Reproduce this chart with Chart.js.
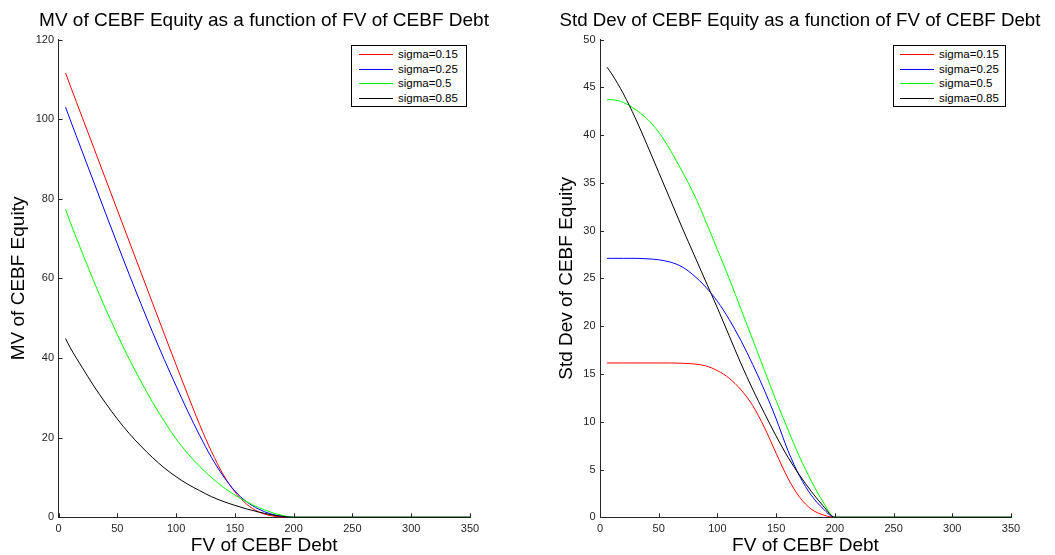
<!DOCTYPE html>
<html>
<head>
<meta charset="utf-8">
<title>CEBF Equity</title>
<script src="https://cdn.jsdelivr.net/npm/chart.js@4.4.1/dist/chart.umd.min.js"></script>
<style>
    body { margin: 0; background: #fff; }
    #lienzo { position: relative; width: 1055px; height: 555px; overflow: hidden; }
    canvas { position: absolute; top: 0; }
    .leyenda {
        position: absolute; top: 45px; height: 62px;
        border: 1px solid #000; background: #fff; box-sizing: border-box;
        font: 11.5px "Liberation Sans", Arial, Helvetica, sans-serif; color: #000;
    }
    .leyenda .fila { position: absolute; left: 0; right: 0; height: 14px; line-height: 14px; white-space: nowrap; }
    .leyenda .muestra { position: absolute; top: 7px; height: 0; width: 34px; border-top: 1px solid; }
    .leyenda .texto { position: absolute; top: 0; }
</style>
</head>
<body>
<div id="lienzo">
    <canvas id="graficaMv" width="528" height="555" style="left:0px"></canvas>
    <canvas id="graficaDesv" width="510" height="555" style="left:545px"></canvas>
    <div id="leyendaMv" class="leyenda" style="left:351px; width:116px"></div>
    <div id="leyendaDesv" class="leyenda" style="left:893px; width:113px"></div>
</div>
<script>
// --- Datos ---
const fvDeuda = [6, 10, 20, 30, 40, 50, 60, 70, 80, 90, 100, 110, 120, 130, 140, 150, 160, 170, 180, 190, 200, 250, 300, 350];

// MV del equity (panel izquierdo)
const mvSigma015 = [111.6, 108.4, 100.6, 92.8, 85.0, 77.2, 69.4, 61.6, 53.8, 46.0, 38.3, 30.7, 23.3, 16.6, 10.8, 6.4, 3.3, 1.4, 0.45, 0.08, 0, 0, 0, 0];
const mvSigma025 = [103.0, 99.8, 92.0, 84.2, 76.4, 68.7, 61.1, 53.7, 46.5, 39.6, 33.0, 26.6, 20.6, 15.1, 10.4, 6.6, 3.9, 2.1, 0.9, 0.25, 0, 0, 0, 0];
const mvSigma050 = [77.4, 74.1, 66.6, 59.3, 52.4, 45.9, 39.8, 34.2, 28.9, 24.1, 19.7, 16.0, 12.8, 10.0, 7.6, 5.6, 3.9, 2.5, 1.35, 0.5, 0, 0, 0, 0];
const mvSigma085 = [44.9, 42.6, 37.7, 33.0, 28.7, 24.7, 21.1, 17.9, 15.0, 12.4, 10.2, 8.3, 6.7, 5.2, 4.0, 3.0, 2.1, 1.35, 0.7, 0.25, 0, 0, 0, 0];

// Desviacion estandar del equity (panel derecho)
const sdSigma015 = [16.15, 16.15, 16.15, 16.15, 16.15, 16.15, 16.15, 16.12, 16.05, 15.85, 15.35, 14.55, 13.35, 11.7, 9.4, 6.7, 4.1, 2.1, 0.85, 0.25, 0, 0, 0, 0];
const sdSigma025 = [27.1, 27.1, 27.1, 27.1, 27.05, 26.95, 26.7, 26.2, 25.3, 24.1, 22.6, 20.7, 18.5, 16.0, 13.3, 10.3, 7.0, 4.3, 2.3, 0.9, 0, 0, 0, 0];
const sdSigma050 = [43.7, 43.7, 43.4, 42.7, 41.7, 40.3, 38.4, 36.2, 33.8, 31.0, 28.0, 25.0, 21.8, 18.6, 15.4, 12.2, 9.2, 6.3, 3.8, 1.6, 0, 0, 0, 0];
const sdSigma085 = [47.1, 46.4, 44.3, 41.8, 39.0, 36.1, 33.2, 30.3, 27.5, 24.7, 21.9, 19.0, 16.1, 13.4, 10.9, 8.5, 6.3, 4.4, 2.7, 1.2, 0, 0, 0, 0];

const nombresSeries = ['sigma=0.15', 'sigma=0.25', 'sigma=0.5', 'sigma=0.85'];
const coloresSeries = ['#ff0000', '#0000ff', '#00ff00', '#000000'];

const ticksX = [0, 50, 100, 150, 200, 250, 300, 350];
const ticksMv = [0, 20, 40, 60, 80, 100, 120];
const ticksDesv = [0, 5, 10, 15, 20, 25, 30, 35, 40, 45, 50];

const fuente = '"Liberation Sans", Arial, Helvetica, sans-serif';
const colorEje = '#262626';

// marcas de los ejes hacia dentro, como en MATLAB
const marcasHaciaDentro = {
    id: 'marcasHaciaDentro',
    afterDraw(chart) {
        const ctx = chart.ctx;
        const area = chart.chartArea;
        ctx.save();
        ctx.strokeStyle = colorEje;
        ctx.lineWidth = 1;
        ctx.beginPath();
        chart.scales.x.ticks.forEach(t => {
            const px = Math.round(chart.scales.x.getPixelForValue(t.value)) + 0.5;
            ctx.moveTo(px, area.bottom);
            ctx.lineTo(px, area.bottom - 4);
        });
        chart.scales.y.ticks.forEach(t => {
            const py = Math.round(chart.scales.y.getPixelForValue(t.value)) + 0.5;
            ctx.moveTo(area.left, py);
            ctx.lineTo(area.left + 4, py);
        });
        ctx.stroke();
        ctx.restore();
    }
};

// cfg: ancho del eje Y, padding del titulo Y, hueco a la derecha del area, tamano del titulo
function crearGrafica(idCanvas, titulo, tituloY, series, ticksY, cfg) {
    const canvas = document.getElementById(idCanvas);
    if (!canvas) return;
    const ctx = canvas.getContext('2d');

    return new Chart(ctx, {
        type: 'line',
        data: {
            datasets: series.map((serie, i) => ({
                label: nombresSeries[i],
                data: serie.map((v, j) => ({ x: fvDeuda[j], y: v })),
                borderColor: coloresSeries[i],
                borderWidth: 1,
                pointRadius: 0,
                cubicInterpolationMode: 'monotone',
                fill: false,
                clip: false,
                order: series.length - i   // la negra encima, como en el original
            }))
        },
        options: {
            responsive: false,
            animation: false,
            layout: { padding: 0 },
            plugins: {
                legend: { display: false },
                tooltip: { enabled: false },
                title: {
                    display: true,
                    text: titulo,
                    color: '#000',
                    font: { family: fuente, size: cfg.tamTitulo, weight: 'normal', lineHeight: 22.8 / cfg.tamTitulo },
                    padding: { top: 9.6, bottom: 7.1 }
                }
            },
            scales: {
                x: {
                    type: 'linear',
                    min: 0,
                    max: 350,
                    afterBuildTicks: s => { s.ticks = ticksX.map(v => ({ value: v })); },
                    afterFit: s => { s.height = 37.7; },
                    grid: { display: false, drawTicks: false },
                    border: { display: true, color: colorEje, width: 1 },
                    ticks: { color: colorEje, font: { family: fuente, size: 11 }, padding: 5, maxRotation: 0, autoSkip: false },
                    title: {
                        display: true,
                        text: 'FV of CEBF Debt',
                        color: '#000',
                        font: { family: fuente, size: 19, lineHeight: 1 },
                        padding: { top: 0, bottom: 0 }
                    }
                },
                y: {
                    type: 'linear',
                    min: 0,
                    max: ticksY[ticksY.length - 1],
                    afterBuildTicks: s => { s.ticks = ticksY.map(v => ({ value: v })); },
                    afterFit: s => { s.width = cfg.anchoEjeY; },
                    grid: { display: false, drawTicks: false },
                    border: { display: true, color: colorEje, width: 1 },
                    ticks: { color: colorEje, font: { family: fuente, size: 11 }, padding: 4.5, autoSkip: false },
                    title: {
                        display: true,
                        text: tituloY,
                        color: '#000',
                        font: { family: fuente, size: 19, lineHeight: 1 },
                        padding: { top: cfg.padTituloY, bottom: 0 }
                    }
                },
                // eje vacio solo para reservar el hueco derecho (asi el titulo no se encoge)
                hueco: {
                    type: 'linear',
                    position: 'right',
                    afterFit: s => { s.width = cfg.huecoDer; },
                    grid: { display: false, drawTicks: false },
                    border: { display: false },
                    ticks: { display: false }
                }
            }
        },
        plugins: [marcasHaciaDentro]
    });
}

function crearLeyenda(idDiv, izqMuestra, izqTexto) {
    const div = document.getElementById(idDiv);
    if (!div) return;
    nombresSeries.forEach((nombre, i) => {
        const fila = document.createElement('div');
        fila.className = 'fila';
        fila.style.top = Math.round(1.3 + 14.5 * i) + 'px';
        fila.innerHTML = `<span class="muestra" style="left:${izqMuestra}px; border-top-color:${coloresSeries[i]}"></span>` +
                         `<span class="texto" style="left:${izqTexto}px">${nombre}</span>`;
        div.appendChild(fila);
    });
}

crearGrafica('graficaMv', 'MV of CEBF Equity as a function of FV of CEBF Debt', 'MV of CEBF Equity',
    [mvSigma015, mvSigma025, mvSigma050, mvSigma085], ticksMv,
    { anchoEjeY: 58.5, padTituloY: 9.5, huecoDer: 58, tamTitulo: 19 });

crearGrafica('graficaDesv', 'Std Dev of CEBF Equity as a function of FV of CEBF Debt', 'Std Dev of CEBF Equity',
    [sdSigma015, sdSigma025, sdSigma050, sdSigma085], ticksDesv,
    { anchoEjeY: 55, padTituloY: 12, huecoDer: 44, tamTitulo: 18.7 });

crearLeyenda('leyendaMv', 7, 46);
crearLeyenda('leyendaDesv', 6, 45);
</script>
</body>
</html>
